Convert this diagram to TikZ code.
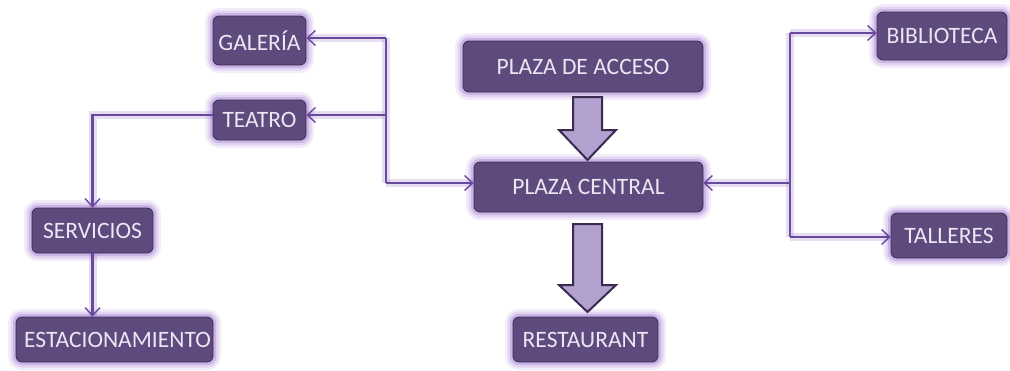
\documentclass[tikz,border=0pt]{standalone}
\usepackage{fontspec}
\setmainfont{Carlito}
\usetikzlibrary{arrows.meta}
\definecolor{boxfill}{RGB}{94,74,124}
\definecolor{boxline}{RGB}{60,45,85}
\definecolor{boxtext}{RGB}{236,230,244}
\definecolor{conncol}{RGB}{104,74,156}
\definecolor{glowcol}{RGB}{150,105,205}
\definecolor{bigfill}{RGB}{178,160,206}
\definecolor{bigline}{RGB}{58,42,80}
\tikzset{
  box/.style={rectangle, rounded corners=6pt, fill=boxfill, draw=boxline, line width=0.8pt,
    text=boxtext, inner sep=0pt, font=\fontsize{23.5}{27}\selectfont,
    preaction={draw=glowcol, line width=16pt, opacity=0.12},
    preaction={draw=glowcol, line width=11pt, opacity=0.18},
    preaction={draw=glowcol, line width=6pt, opacity=0.3}},
  conn/.style={draw=conncol, line width=2.4pt, -{Straight Barb[length=8pt,width=15pt,line width=1.4pt]},
    preaction={draw=glowcol, line width=8pt, opacity=0.22, -}},
  seg/.style={draw=conncol, line width=2.4pt,
    preaction={draw=glowcol, line width=8pt, opacity=0.22}},
  bigarrow/.style={fill=bigfill, draw=bigline, line width=2pt, line join=miter}
}
\begin{document}
\begin{tikzpicture}[x=1pt,y=-1pt]
\useasboundingbox (0,0) rectangle (1010,370);
% nodes
\node[box, minimum width=93pt, minimum height=49pt] (galeria) at (259.5,40.5) {GALERÍA};
\node[box, minimum width=93pt, minimum height=40pt] (teatro) at (259.5,120) {TEATRO};
\node[box, minimum width=240pt, minimum height=51pt] (acceso) at (583,66.5) {PLAZA DE ACCESO};
\node[box, minimum width=229pt, minimum height=50pt] (central) at (588.5,187) {PLAZA CENTRAL};
\node[box, minimum width=145pt, minimum height=45pt] (restaurant) at (585.5,339.5) {RESTAURANT};
\node[box, minimum width=121pt, minimum height=45pt] (servicios) at (92.5,230.5) {SERVICIOS};
\node[box, minimum width=197pt, minimum height=45pt] (estacion) at (114.5,339.5) {\hspace*{6pt}ESTACIONAMIENTO};
\node[box, minimum width=130pt, minimum height=48pt] (biblio) at (942,36) {BIBLIOTECA};
\node[box, minimum width=116pt, minimum height=45pt] (talleres) at (949,235.5) {TALLERES};
% junction coordinates
\coordinate (ltop) at (386,38);
\coordinate (lmid) at (386,115);
\coordinate (lbot) at (386,183);
\coordinate (tleft) at (92.5,115);
\coordinate (rtop) at (790,33);
\coordinate (rmid) at (790,183);
\coordinate (rbot) at (790,237);
% left connectors
\draw[seg] (ltop) -- (lbot);
\draw[conn] (ltop) -- (galeria.east |- ltop);
\draw[conn] (lmid) -- (teatro.east |- lmid);
\draw[conn] (lbot) -- (central.west |- lbot);
\draw[conn] (teatro.west |- tleft) -- (tleft) -- (servicios.north);
\draw[conn] (servicios.south) -- (servicios.south |- estacion.north);
% right connectors
\draw[seg] (rtop) -- (rbot);
\draw[conn] (rtop) -- (biblio.west |- rtop);
\draw[conn] (rbot) -- (talleres.west |- rbot);
\draw[conn] (rmid) -- (central.east |- rmid);
% block arrows
\draw[bigarrow] (573,97) -- (602,97) -- (602,130) -- (616,130) -- (587.5,160) -- (559,130) -- (573,130) -- cycle;
\draw[bigarrow] (573,224) -- (602,224) -- (602,285) -- (616,285) -- (587.5,312) -- (559,285) -- (573,285) -- cycle;
\end{tikzpicture}
\end{document}
